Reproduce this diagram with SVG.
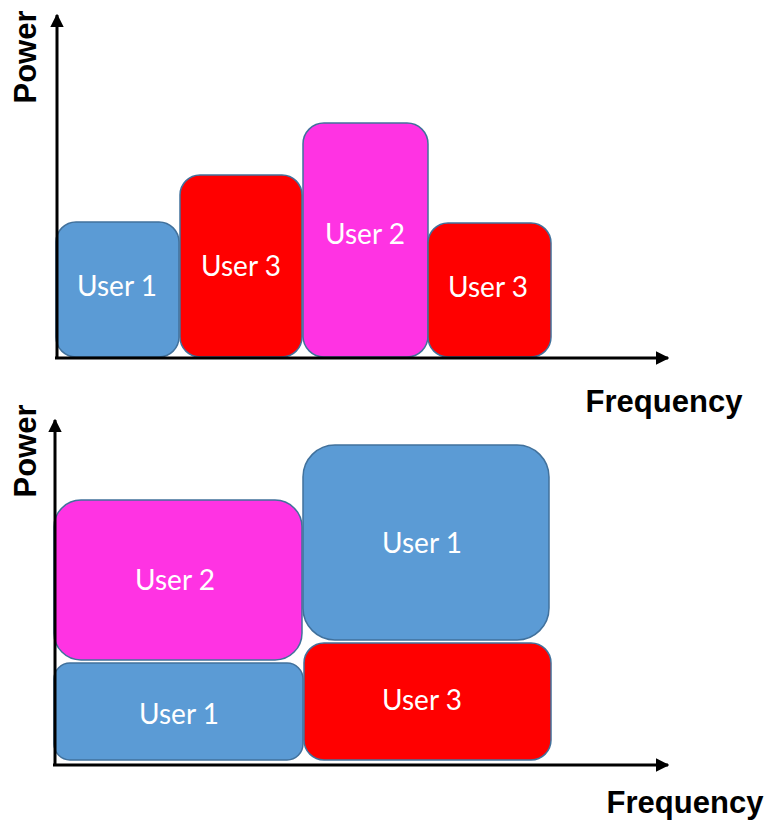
<svg xmlns="http://www.w3.org/2000/svg" width="770" height="823" viewBox="0 0 770 823">
<style>
.b{stroke:#41719C;stroke-width:1.5}
.u1{fill:#5B9BD5}
.u2{fill:#FF33E3}
.u3{fill:#FF0000}
.t{font-family:Lato,"Liberation Sans",sans-serif;font-size:28px;fill:#FFFFFF;text-anchor:middle}
.ax{stroke:#000;stroke-width:3;fill:none}
.lb{font-family:"Liberation Sans",Arial,sans-serif;font-weight:bold;font-size:31px;fill:#000}
</style>
<defs>
<marker id="ah" viewBox="0 0 10 10" refX="9" refY="5" markerWidth="4.5" markerHeight="4.5" orient="auto" markerUnits="strokeWidth">
<path d="M0,0 L10,5 L0,10 z" fill="#000"/>
</marker>
</defs>
<rect width="770" height="823" fill="#fff"/>
<g id="top-boxes">
<g id="t-user1"><rect class="b u1" x="56" y="222" width="123" height="135" rx="20"/><text class="t" x="117" y="296">User 1</text></g>
<g id="t-user3a"><rect class="b u3" x="180" y="175" width="122" height="182" rx="20"/><text class="t" x="241" y="276">User 3</text></g>
<g id="t-user2"><rect class="b u2" x="303" y="123" width="125" height="234" rx="21"/><text class="t" x="365" y="244">User 2</text></g>
<g id="t-user3b"><rect class="b u3" x="428" y="223" width="123" height="134" rx="20"/><text class="t" x="488" y="297">User 3</text></g>
</g>
<g id="bottom-boxes">
<g id="b-user2"><rect class="b u2" x="54" y="500" width="248" height="160" rx="27"/><text class="t" x="175" y="590">User 2</text></g>
<g id="b-user1a"><rect class="b u1" x="54" y="663" width="249" height="97" rx="16"/><text class="t" x="179" y="724">User 1</text></g>
<g id="b-user1b"><rect class="b u1" x="303" y="445" width="246" height="195" rx="32"/><text class="t" x="422" y="553">User 1</text></g>
<g id="b-user3"><rect class="b u3" x="304" y="643" width="247" height="117" rx="20"/><text class="t" x="422" y="710">User 3</text></g>
</g>
<g id="connectors">
<line class="ax" x1="57" y1="358" x2="57" y2="15" marker-end="url(#ah)"/>
<line class="ax" x1="55" y1="358" x2="668" y2="358" marker-end="url(#ah)"/>
<line class="ax" x1="55" y1="765" x2="55" y2="420" marker-end="url(#ah)"/>
<line class="ax" x1="53" y1="765" x2="668" y2="765" marker-end="url(#ah)"/>
</g>
<g id="labels">
<text class="lb" transform="translate(36,57) rotate(-90)" text-anchor="middle">Power</text>
<text class="lb" transform="translate(36,451) rotate(-90)" text-anchor="middle">Power</text>
<text class="lb" x="664" y="412" text-anchor="middle">Frequency</text>
<text class="lb" x="685" y="813" text-anchor="middle">Frequency</text>
</g>
</svg>
